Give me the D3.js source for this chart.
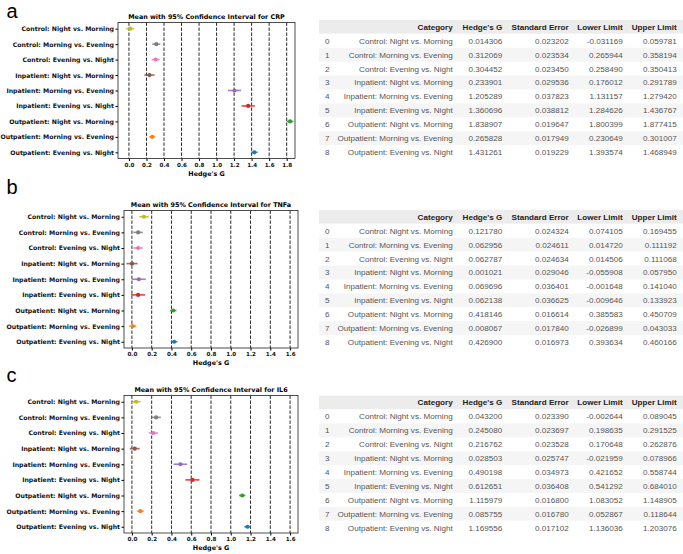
<!DOCTYPE html>
<html lang="en"><head><meta charset="utf-8">
<title>Hedge's G forest plots</title>
<script src="https://cdn.jsdelivr.net/npm/d3@7"></script>
<style>
  body { margin: 0; background: #fff; }
  .tick text { font-family: "DejaVu Sans", sans-serif; font-weight: bold; }
</style>
</head>
<body>
<script>
// categories in table order (top to bottom)
var categories = [
  "Control: Night vs. Morning",
  "Control: Morning vs. Evening",
  "Control: Evening vs. Night",
  "Inpatient: Night vs. Morning",
  "Inpatient: Morning vs. Evening",
  "Inpatient: Evening vs. Night",
  "Outpatient: Night vs. Morning",
  "Outpatient: Morning vs. Evening",
  "Outpatient: Evening vs. Night"
];
var columns = ["Category", "Hedge's G", "Standard Error", "Lower Limit", "Upper Limit"];
var markers = ["CRP", "TNFa", "IL6"];
var letters = ["a", "b", "c"];

// CRP
var crpG     = [0.014306, 0.312069, 0.304452, 0.233901, 1.205289, 1.360696, 1.838907, 0.265828, 1.431261];
var crpSE    = [0.023202, 0.023534, 0.023450, 0.029536, 0.037823, 0.038812, 0.019647, 0.017949, 0.019229];
var crpLower = [-0.031169, 0.265944, 0.258490, 0.176012, 1.131157, 1.284626, 1.800399, 0.230649, 1.393574];
var crpUpper = [0.059781, 0.358194, 0.350413, 0.291789, 1.279420, 1.436767, 1.877415, 0.301007, 1.468949];

// TNFa
var tnfG     = [0.121780, 0.062956, 0.062787, 0.001021, 0.069696, 0.062138, 0.418146, 0.008067, 0.426900];
var tnfSE    = [0.024324, 0.024611, 0.024634, 0.029046, 0.036401, 0.036625, 0.016614, 0.017840, 0.016973];
var tnfLower = [0.074105, 0.014720, 0.014506, -0.055908, -0.001648, -0.009646, 0.385583, -0.026899, 0.393634];
var tnfUpper = [0.169455, 0.111192, 0.111068, 0.057950, 0.141040, 0.133923, 0.450709, 0.043033, 0.460166];

// IL6
var il6G     = [0.043200, 0.245080, 0.216762, 0.028503, 0.490198, 0.612651, 1.115979, 0.085755, 1.169556];
var il6SE    = [0.023390, 0.023697, 0.023528, 0.025747, 0.034973, 0.036408, 0.016800, 0.016780, 0.017102];
var il6Lower = [-0.002644, 0.198635, 0.170648, -0.021959, 0.421652, 0.541292, 1.083052, 0.052867, 1.136036];
var il6Upper = [0.089045, 0.291525, 0.262876, 0.078966, 0.558744, 0.684010, 1.148905, 0.118644, 1.203076];

// x ticks and limits per panel
var crpTicks = [0, 0.2, 0.4, 0.6, 0.8, 1.0, 1.2, 1.4, 1.6, 1.8];
var tnfTicks = [0, 0.2, 0.4, 0.6, 0.8, 1.0, 1.2, 1.4, 1.6];
var il6Ticks = [0, 0.2, 0.4, 0.6, 0.8, 1.0, 1.2, 1.4, 1.6];
var crpXlim = [-0.125, 1.895];
var tnfXlim = [-0.08, 1.68];
var il6Xlim = [-0.08, 1.68];

var panels = [
  {name: markers[0], letter: letters[0], g: crpG, se: crpSE, lo: crpLower, hi: crpUpper, ticks: crpTicks, xlim: crpXlim,
   top: 22.5, bottom: 158.5, left: 118, right: 295, letterY: 18.3, tableTop: 20},
  {name: markers[1], letter: letters[1], g: tnfG, se: tnfSE, lo: tnfLower, hi: tnfUpper, ticks: tnfTicks, xlim: tnfXlim,
   top: 210.5, bottom: 348, left: 124, right: 298, letterY: 193.5, tableTop: 210},
  {name: markers[2], letter: letters[2], g: il6G, se: il6SE, lo: il6Lower, hi: il6Upper, ticks: il6Ticks, xlim: il6Xlim,
   top: 395.5, bottom: 533, left: 124, right: 298, letterY: 381.5, tableTop: 395.6}
];

var color = d3.scaleOrdinal(d3.schemeCategory10).domain(d3.range(10));
var loc = d3.formatLocale({decimal: ".", thousands: ",", grouping: [3], currency: ["$", ""], minus: "-"});
var f6 = loc.format(".6f");
var fs = 6.4;      // titles and axis label
var catFs = 6.2;   // category labels
var tickFs = 5.6;  // x tick numbers

var svg = d3.select("body").append("svg")
    .attr("width", 683)
    .attr("height", 554);

panels.forEach(function(p) {
  var x = d3.scaleLinear().domain(p.xlim).range([p.left, p.right]);
  var y = d3.scaleLinear().domain([-0.4, categories.length - 1 + 0.4]).range([p.top, p.bottom]);

  svg.append("text")
      .attr("x", 6.5)
      .attr("y", p.letterY)
      .attr("font-family", "Liberation Sans, Arial, sans-serif")
      .attr("font-size", 20)
      .text(p.letter);

  // dashed reference lines at every tick
  svg.append("g").selectAll("line")
      .data(p.ticks)
      .enter()
      .append("line")
      .attr("x1", function(d){ return x(d); })
      .attr("x2", function(d){ return x(d); })
      .attr("y1", p.top)
      .attr("y2", p.bottom)
      .attr("stroke", "#111")
      .attr("stroke-width", 0.9)
      .attr("stroke-dasharray", "3.4,1.6");

  var xAxis = d3.axisBottom(x).tickValues(p.ticks).tickFormat(d3.format(".1f")).tickSize(2.5).tickPadding(1.8);
  var gx = svg.append("g")
      .attr("transform", "translate(0," + p.bottom + ")")
      .call(xAxis);
  gx.select(".domain").remove();
  gx.selectAll("text").attr("font-size", tickFs).attr("fill", "#111");

  var yAxis = d3.axisLeft(y).tickValues(d3.range(categories.length))
      .tickFormat(function(i){ return categories[i]; }).tickSize(2.5).tickPadding(1.5);
  var gy = svg.append("g")
      .attr("transform", "translate(" + p.left + ",0)")
      .call(yAxis);
  gy.select(".domain").remove();
  gy.selectAll("text").attr("font-size", catFs).attr("fill", "#111");

  svg.append("rect")
      .attr("x", p.left)
      .attr("y", p.top)
      .attr("width", p.right - p.left)
      .attr("height", p.bottom - p.top)
      .attr("fill", "none")
      .attr("stroke", "#222")
      .attr("stroke-width", 0.8);

  svg.append("text")
      .attr("x", (p.left + p.right) / 2)
      .attr("y", p.top - 4)
      .attr("text-anchor", "middle")
      .attr("font-family", "DejaVu Sans, sans-serif")
      .attr("font-weight", "bold")
      .attr("font-size", fs)
      .text("Mean with 95% Confidence Interval for " + p.name);

  svg.append("text")
      .attr("x", (p.left + p.right) / 2)
      .attr("y", p.bottom + 17)
      .attr("text-anchor", "middle")
      .attr("font-family", "DejaVu Sans, sans-serif")
      .attr("font-weight", "bold")
      .attr("font-size", fs)
      .text("Hedge's G");

  var rows = categories.map(function(c, i) {
    return {cat: c, i: i, g: p.g[i], se: p.se[i], lo: p.lo[i], hi: p.hi[i]};
  });

  var marks = svg.append("g").selectAll("g")
      .data(rows)
      .enter()
      .append("g");
  marks.append("line")
      .attr("x1", function(d){ return x(d.lo); })
      .attr("x2", function(d){ return x(d.hi); })
      .attr("y1", function(d){ return y(d.i); })
      .attr("y2", function(d){ return y(d.i); })
      .attr("stroke", function(d){ return color(8 - d.i); })
      .attr("stroke-width", 1.6)
      .attr("opacity", 0.85);
  marks.append("circle")
      .attr("cx", function(d){ return x(d.g); })
      .attr("cy", function(d){ return y(d.i); })
      .attr("r", 2.1)
      .attr("fill", function(d){ return color(8 - d.i); });

  // table on the right
  var rowH = 13.9;
  var tfs = 8.1;
  var colRight = [452.7, 502.3, 568.7, 622.7, 676.7];
  var tbl = svg.append("g").attr("font-family", "Liberation Sans, Arial, sans-serif");
  tbl.append("rect")
      .attr("x", 319).attr("y", p.tableTop)
      .attr("width", 364).attr("height", rowH - 0.3)
      .attr("fill", "#ececec");
  tbl.selectAll("text.head")
      .data(columns)
      .enter()
      .append("text")
      .attr("class", "head")
      .attr("x", function(d, j){ return colRight[j]; })
      .attr("y", p.tableTop + rowH / 2 + 2.9)
      .attr("text-anchor", "end")
      .attr("font-weight", "bold")
      .attr("font-size", tfs)
      .attr("fill", "#222")
      .text(function(d){ return d; });

  var tr = tbl.selectAll("g.row")
      .data(rows)
      .enter()
      .append("g")
      .attr("class", "row")
      .attr("transform", function(d){ return "translate(0," + (p.tableTop + rowH * (d.i + 1)) + ")"; });
  tr.filter(function(d){ return d.i % 2 === 1; })
      .append("rect")
      .attr("x", 319).attr("y", 0)
      .attr("width", 364).attr("height", rowH)
      .attr("fill", "#f5f5f5");
  tr.append("text")
      .attr("x", 325)
      .attr("y", rowH / 2 + 2.9)
      .attr("font-size", tfs)
      .attr("fill", "#555")
      .text(function(d){ return d.i; });
  tr.selectAll("text.cell")
      .data(function(d){ return [d.cat, f6(d.g), f6(d.se), f6(d.lo), f6(d.hi)]; })
      .enter()
      .append("text")
      .attr("class", "cell")
      .attr("x", function(d, j){ return colRight[j]; })
      .attr("y", rowH / 2 + 2.9)
      .attr("text-anchor", "end")
      .attr("font-size", tfs)
      .attr("fill", "#555")
      .text(function(d){ return d; });
});
</script>
</body></html>
